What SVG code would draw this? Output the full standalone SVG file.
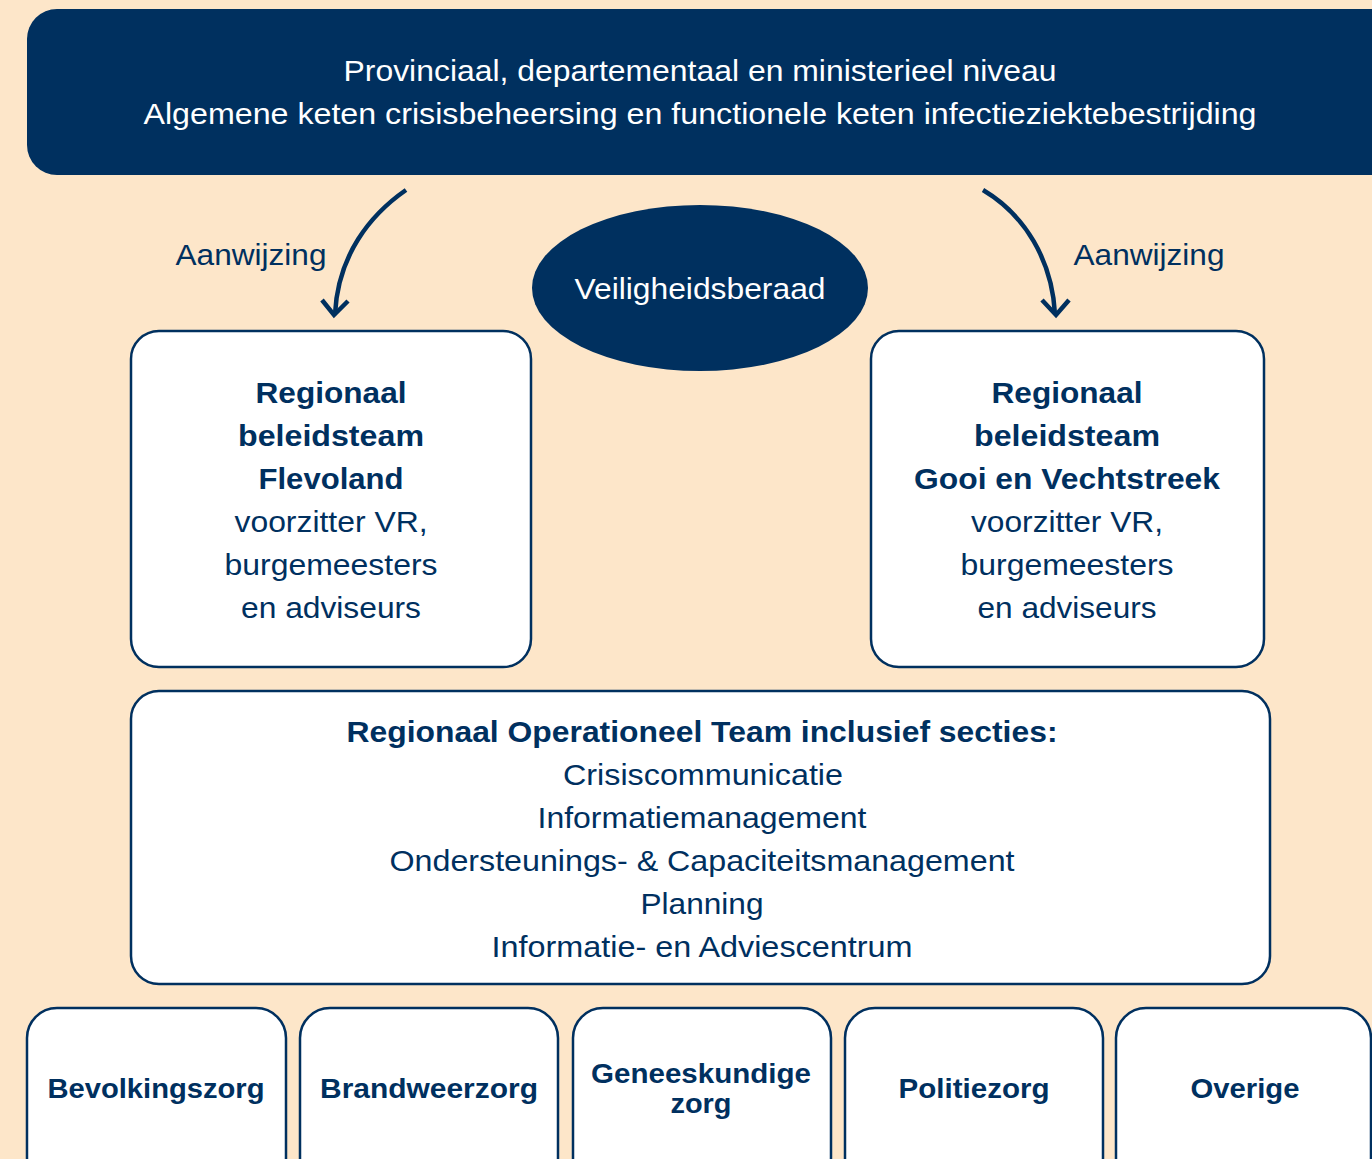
<svg xmlns="http://www.w3.org/2000/svg" width="1372" height="1159" viewBox="0 0 1372 1159">
<defs>
<style>
.bg{fill:#FDE6C9}
.box{fill:#fff;stroke:#00305F;stroke-width:2.5}
.t{font-family:"Liberation Sans",Arial,sans-serif;fill:#00305F;text-anchor:middle;font-size:30px}
.s{font-size:28px}
.w{fill:#fff}
.b{font-weight:bold}
.conn{fill:none;stroke:#00305F;stroke-width:4.5}
</style>
</defs>
<rect class="bg" x="0" y="0" width="1372" height="1159"/>
<g id="top">
<rect x="27" y="9" width="1373" height="166" rx="30" fill="#00305F"/>
<text class="t w" x="700" y="81" textLength="713" lengthAdjust="spacingAndGlyphs">Provinciaal, departementaal en ministerieel niveau</text>
<text class="t w" x="700" y="124" textLength="1113" lengthAdjust="spacingAndGlyphs">Algemene keten crisisbeheersing en functionele keten infectieziektebestrijding</text>
</g>
<g id="veiligheidsberaad">
<ellipse cx="700" cy="288" rx="168" ry="83" fill="#00305F"/>
<text class="t w" x="700" y="299" textLength="251" lengthAdjust="spacingAndGlyphs">Veiligheidsberaad</text>
</g>
<g id="connectors">
<path class="conn" d="M406,190 C370,215 338,255 335,314"/>
<path class="conn" d="M322,300 L334,315 L348,301"/>
<path class="conn" d="M983,190 C1025,215 1052,260 1055,314"/>
<path class="conn" d="M1042,300 L1056,315 L1069,300"/>
<text class="t" x="251" y="265" textLength="151" lengthAdjust="spacingAndGlyphs">Aanwijzing</text>
<text class="t" x="1149" y="265" textLength="151" lengthAdjust="spacingAndGlyphs">Aanwijzing</text>
</g>
<g id="rbt-flevoland">
<rect class="box" x="131" y="331" width="400" height="336" rx="28"/>
<text class="t b" x="331" y="403" textLength="151" lengthAdjust="spacingAndGlyphs">Regionaal</text>
<text class="t b" x="331" y="446" textLength="186" lengthAdjust="spacingAndGlyphs">beleidsteam</text>
<text class="t b" x="331" y="489" textLength="145" lengthAdjust="spacingAndGlyphs">Flevoland</text>
<text class="t" x="331" y="532" textLength="193" lengthAdjust="spacingAndGlyphs">voorzitter VR,</text>
<text class="t" x="331" y="575" textLength="213" lengthAdjust="spacingAndGlyphs">burgemeesters</text>
<text class="t" x="331" y="618" textLength="180" lengthAdjust="spacingAndGlyphs">en adviseurs</text>
</g>
<g id="rbt-gooi">
<rect class="box" x="871" y="331" width="393" height="336" rx="28"/>
<text class="t b" x="1067" y="403" textLength="151" lengthAdjust="spacingAndGlyphs">Regionaal</text>
<text class="t b" x="1067" y="446" textLength="186" lengthAdjust="spacingAndGlyphs">beleidsteam</text>
<text class="t b" x="1067" y="489" textLength="306" lengthAdjust="spacingAndGlyphs">Gooi en Vechtstreek</text>
<text class="t" x="1067" y="532" textLength="192" lengthAdjust="spacingAndGlyphs">voorzitter VR,</text>
<text class="t" x="1067" y="575" textLength="213" lengthAdjust="spacingAndGlyphs">burgemeesters</text>
<text class="t" x="1067" y="618" textLength="179" lengthAdjust="spacingAndGlyphs">en adviseurs</text>
</g>
<g id="rot">
<rect class="box" x="131" y="691" width="1139" height="293" rx="28"/>
<text class="t b" x="702" y="742" textLength="711" lengthAdjust="spacingAndGlyphs">Regionaal Operationeel Team inclusief secties:</text>
<text class="t" x="703" y="785" textLength="280" lengthAdjust="spacingAndGlyphs">Crisiscommunicatie</text>
<text class="t" x="702" y="828" textLength="329" lengthAdjust="spacingAndGlyphs">Informatiemanagement</text>
<text class="t" x="702" y="871" textLength="625" lengthAdjust="spacingAndGlyphs">Ondersteunings- &amp; Capaciteitsmanagement</text>
<text class="t" x="702" y="914" textLength="123" lengthAdjust="spacingAndGlyphs">Planning</text>
<text class="t" x="702" y="957" textLength="421" lengthAdjust="spacingAndGlyphs">Informatie- en Adviescentrum</text>
</g>
<g id="bevolkingszorg">
<rect class="box" x="27" y="1008" width="259" height="180" rx="30"/>
<text class="t s b" x="156" y="1098" textLength="217" lengthAdjust="spacingAndGlyphs">Bevolkingszorg</text>
</g>
<g id="brandweerzorg">
<rect class="box" x="300" y="1008" width="258" height="180" rx="30"/>
<text class="t s b" x="429" y="1098" textLength="218" lengthAdjust="spacingAndGlyphs">Brandweerzorg</text>
</g>
<g id="geneeskundige">
<rect class="box" x="573" y="1008" width="258" height="180" rx="30"/>
<text class="t s b" x="701" y="1083" textLength="220" lengthAdjust="spacingAndGlyphs">Geneeskundige</text>
<text class="t s b" x="701" y="1113" textLength="61" lengthAdjust="spacingAndGlyphs">zorg</text>
</g>
<g id="politiezorg">
<rect class="box" x="845" y="1008" width="258" height="180" rx="30"/>
<text class="t s b" x="974" y="1098" textLength="151" lengthAdjust="spacingAndGlyphs">Politiezorg</text>
</g>
<g id="overige">
<rect class="box" x="1116" y="1008" width="255" height="180" rx="30"/>
<text class="t s b" x="1245" y="1098" textLength="109" lengthAdjust="spacingAndGlyphs">Overige</text>
</g>
</svg>
